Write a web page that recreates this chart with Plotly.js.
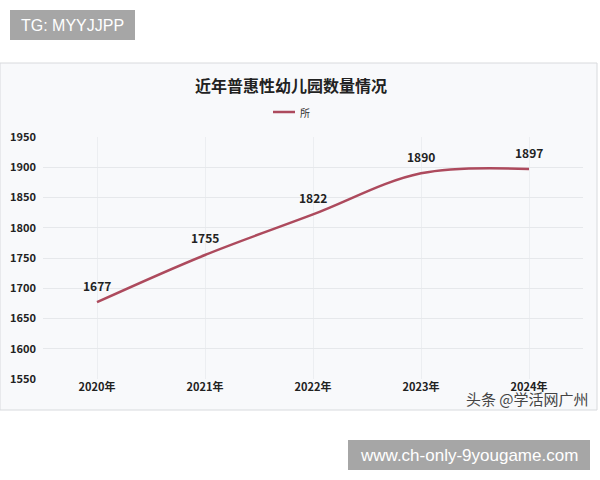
<!DOCTYPE html>
<html><head><meta charset="utf-8">
<script src="https://cdn.plot.ly/plotly-3.0.1.min.js"></script>
<style>html,body{margin:0;padding:0;background:#fff}#c{width:600px;height:480px}</style>
</head><body><div id="c"></div>
<script>
const years = ["2020年","2021年","2022年","2023年","2024年"];
const counts = [1677, 1755, 1822, 1890, 1897];
const seriesName = "所";
const chartTitle = "近年普惠性幼儿园数量情况";
const yTicks = [1550,1600,1650,1700,1750,1800,1850,1900,1950];

const F = '"Noto Sans CJK SC", "Noto Sans", sans-serif';
const L = 43, R = 17, T = 137, B = 101, W = 600, H = 480;
const pw = W - L - R, ph = H - T - B;
const px = x => (x - L) / pw;
const py = y => (H - B - y) / ph;
const lineColor = '#ad4a5d';

const trace = {
  x: years, y: counts, name: seriesName, type: 'scatter', mode: 'lines',
  line: {color: lineColor, width: 2.5, shape: 'spline', smoothing: 1.0},
  showlegend: false, cliponaxis: false
};

const labelAnns = years.map((yr, i) => ({
  x: yr, y: counts[i], xref: 'x', yref: 'y', text: String(counts[i]), showarrow: false,
  yshift: 17, font: {family: F, size: 12, color: '#222', weight: 'bold'}
}));

const layout = {
  width: W, height: H,
  margin: {l: L, r: R, t: T, b: B},
  paper_bgcolor: '#ffffff', plot_bgcolor: 'rgba(0,0,0,0)',
  showlegend: false,
  xaxis: {type: 'category', range: [-0.5, 4.5], showgrid: true, gridcolor: '#eceef1',
    zeroline: false, showline: false, ticks: '', tickfont: {family: F, size: 11, color: '#222', weight: 'bold'}},
  yaxis: {range: [1550, 1950], tickvals: yTicks, showgrid: true, gridcolor: '#e6e8eb',
    zeroline: false, showline: false, ticks: '', ticklabelstandoff: 6,
    tickfont: {family: F, size: 11, color: '#222', weight: 'bold'}},
  shapes: [
    {type: 'rect', xref: 'paper', yref: 'paper', x0: px(0), x1: px(597), y0: py(410), y1: py(63),
     fillcolor: '#f8f9fb', line: {color: '#d8dadd', width: 1}, layer: 'below'},
    {type: 'line', xref: 'paper', yref: 'paper', x0: px(273), x1: px(295), y0: py(112), y1: py(112),
     line: {color: lineColor, width: 2.5}},
    {type: 'rect', xref: 'paper', yref: 'paper', x0: px(10), x1: px(135), y0: py(40), y1: py(10),
     fillcolor: '#a6a6a6', line: {width: 0}},
    {type: 'rect', xref: 'paper', yref: 'paper', x0: px(348), x1: px(590), y0: py(470), y1: py(440),
     fillcolor: '#a6a6a6', line: {width: 0}}
  ],
  annotations: labelAnns.concat([
    {xref: 'paper', yref: 'paper', x: px(291), y: py(85), xanchor: 'center', yanchor: 'middle',
     text: chartTitle, showarrow: false, font: {family: F, size: 16, color: '#222', weight: 'bold'}},
    {xref: 'paper', yref: 'paper', x: px(298), y: py(112), xanchor: 'left', yanchor: 'middle',
     text: seriesName, showarrow: false, font: {family: F, size: 10, color: '#333'}},
    {xref: 'paper', yref: 'paper', x: px(72), y: py(25), xanchor: 'center', yanchor: 'middle',
     text: 'TG: MYYJJPP', showarrow: false, font: {family: '"Liberation Sans", Arial, sans-serif', size: 16, color: '#ffffff'}},
    {xref: 'paper', yref: 'paper', x: px(469), y: py(455), xanchor: 'center', yanchor: 'middle',
     text: 'www.ch-only-9yougame.com', showarrow: false, font: {family: '"Liberation Sans", Arial, sans-serif', size: 17, color: '#ffffff'}},
    {xref: 'paper', yref: 'paper', x: px(527), y: py(398), xanchor: 'center', yanchor: 'middle',
     text: '头条 @学活网广州', showarrow: false, font: {family: F, size: 15, color: '#444'}}
  ])
};

Plotly.newPlot('c', [trace], layout, {displayModeBar: false, staticPlot: true});
</script></body></html>
